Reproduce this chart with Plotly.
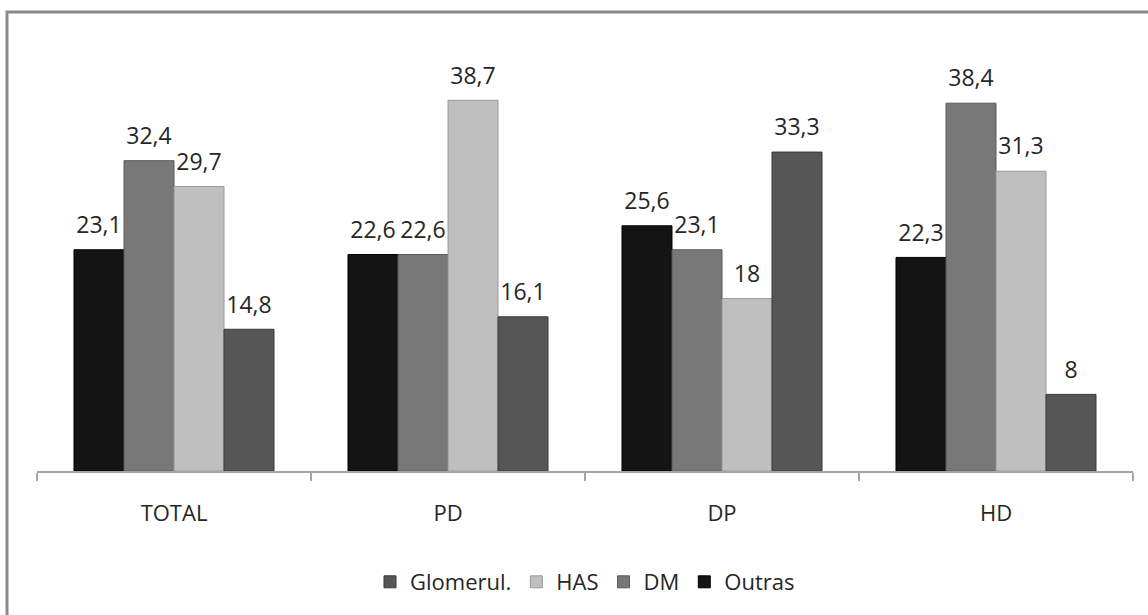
import plotly.graph_objects as go

categories = ["TOTAL", "PD", "DP", "HD"]
outras = [23.1, 22.6, 25.6, 22.3]
dm = [32.4, 22.6, 23.1, 38.4]
has = [29.7, 38.7, 18, 31.3]
glomerul = [14.8, 16.1, 33.3, 8]

series = [
    ("Outras", outras, "#141414", "#000000", 4),
    ("DM", dm, "#787878", "#5a5a5a", 3),
    ("HAS", has, "#bfbfbf", "#9a9a9a", 2),
    ("Glomerul.", glomerul, "#565656", "#3a3a3a", 1),
]

FONT = "'Open Sans', sans-serif"

def fmt(v):
    return ("%g" % v).replace(".", ",")

fig = go.Figure()
for name, vals, color, lc, rank in series:
    fig.add_trace(go.Bar(
        x=categories, y=vals, name=name,
        marker=dict(color=color, line=dict(color=lc, width=1)),
        offsetgroup=name, legendrank=rank, hoverinfo="skip",
    ))
for name, vals, color, lc, rank in series:
    fig.add_trace(go.Scatter(
        x=categories, y=vals, mode="markers+text",
        text=[fmt(v) for v in vals], textposition="top center",
        textfont=dict(family=FONT, size=23, color="#262626"),
        marker=dict(size=16, opacity=0),
        offsetgroup=name, showlegend=False, hoverinfo="skip", cliponaxis=False,
    ))

W, H = 1148, 615
L, R, T, B = 37, 15, 40, 144
pw, ph = W - L - R, H - T - B

def px(x):
    return (x - L) / pw

def py(y):
    return (H - B - y) / ph

fig.update_layout(
    width=W, height=H,
    margin=dict(l=L, r=R, t=T, b=B, autoexpand=False),
    paper_bgcolor="white", plot_bgcolor="white",
    barmode="group", bargap=0.27, bargroupgap=0,
    scattermode="group", scattergap=0.27,
    font=dict(family=FONT, size=22, color="#262626"),
    showlegend=True,
    legend=dict(orientation="h", x=0.5, xanchor="center", y=py(582), yanchor="middle",
                bgcolor="rgba(0,0,0,0)",
                font=dict(family=FONT, size=22, color="#262626"),
                itemwidth=30, tracegroupgap=0),
    xaxis=dict(showline=True, linecolor="#a6a6a6", linewidth=1.5,
               ticks="outside", tickson="boundaries", ticklen=8, tickcolor="#a6a6a6",
               tickwidth=1.5, ticklabelstandoff=22, showgrid=False,
               tickfont=dict(family=FONT, size=22, color="#262626")),
    yaxis=dict(range=[0, 45], visible=False, showgrid=False, zeroline=False),
    shapes=[dict(type="rect", xref="paper", yref="paper",
                 x0=px(7), x1=px(1152), y0=py(622), y1=py(12),
                 line=dict(color="#8a8a8a", width=3), fillcolor="rgba(0,0,0,0)")],
)

fig.write_html("out.html", config={"displayModeBar": False},
               post_script="document.body.style.margin='0';document.body.style.overflow='hidden';")
